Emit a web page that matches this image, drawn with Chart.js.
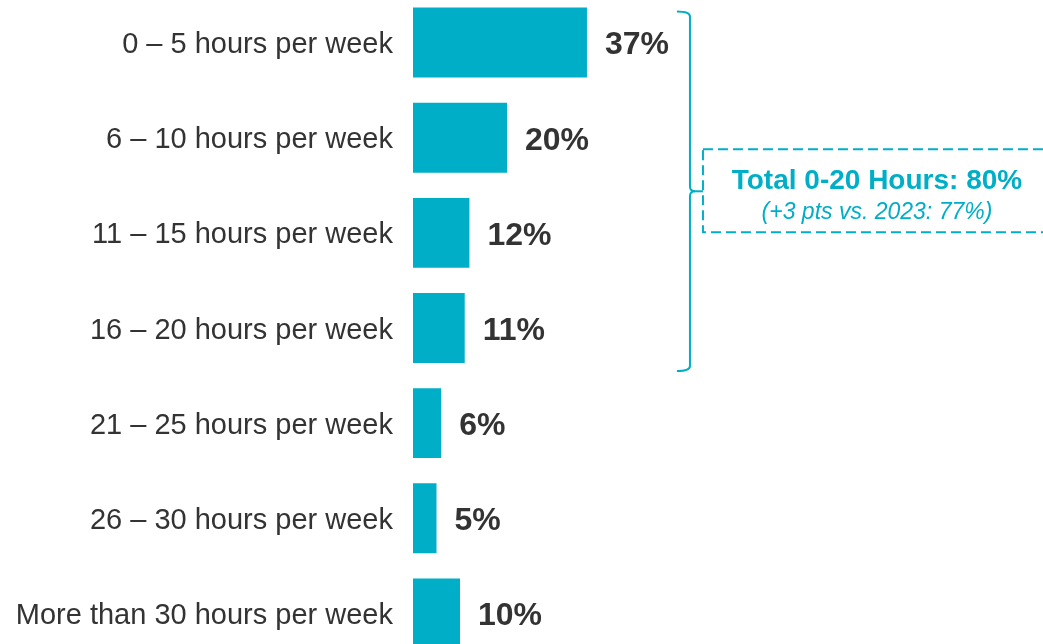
<!DOCTYPE html>
<html>
<head>
<meta charset="utf-8">
<script src="https://cdn.jsdelivr.net/npm/chart.js@4"></script>
<style>
    html, body { margin: 0; padding: 0; background: #fff; overflow: hidden; }
    #wrap { position: absolute; left: 0; top: -5px; width: 1043px; height: 666px; }
</style>
</head>
<body>
<div id="wrap"><canvas id="barChart"></canvas></div>
<script>
const categories = [
    '0 \u2013 5 hours per week',
    '6 \u2013 10 hours per week',
    '11 \u2013 15 hours per week',
    '16 \u2013 20 hours per week',
    '21 \u2013 25 hours per week',
    '26 \u2013 30 hours per week',
    'More than 30 hours per week'
];
const shares = [37, 20, 12, 11, 6, 5, 10];
const totalTitle = 'Total 0-20 Hours: 80%';
const totalNote = '(+3 pts vs. 2023: 77%)';

const TEAL = '#00AEC7';
const DARK = '#333333';

// value labels right of each bar
const valueLabels = {
    id: 'valueLabels',
    afterDatasetsDraw(chart) {
        const ctx = chart.ctx;
        const meta = chart.getDatasetMeta(0);
        ctx.save();
        ctx.font = 'bold 32px "Liberation Sans", Arial, sans-serif';
        ctx.fillStyle = DARK;
        ctx.textAlign = 'left';
        ctx.textBaseline = 'middle';
        meta.data.forEach((bar, i) => {
            ctx.fillText(shares[i] + '%', bar.x + 18, bar.y + 3);
        });
        ctx.restore();
    }
};

// curly bracket + dashed callout for the first four groups
const bracketNote = {
    id: 'bracketNote',
    afterDraw(chart) {
        const ctx = chart.ctx;
        const x = chart.scales.x;
        const y = chart.scales.y;
        const bx = x.getPixelForValue(37) + 103;
        const top = y.getPixelForValue(0) - 31;
        const bottom = y.getPixelForValue(3) + 43;
        const mid = (top + bottom) / 2;
        const boxL = bx + 13;

        ctx.save();
        ctx.strokeStyle = TEAL;
        ctx.lineWidth = 2;
        ctx.beginPath();
        ctx.moveTo(bx - 13, top);
        ctx.quadraticCurveTo(bx, top, bx, top + 5);
        ctx.lineTo(bx, mid - 5);
        ctx.quadraticCurveTo(bx, mid, bx + 5, mid);
        ctx.quadraticCurveTo(bx, mid, bx, mid + 5);
        ctx.lineTo(bx, bottom - 5);
        ctx.quadraticCurveTo(bx, bottom, bx - 13, bottom);
        ctx.stroke();
        ctx.beginPath();
        ctx.moveTo(bx + 4, mid);
        ctx.lineTo(boxL, mid);
        ctx.stroke();

        // dashed box
        ctx.setLineDash([10, 5]);
        ctx.strokeRect(boxL, mid - 42, 350, 83);
        ctx.setLineDash([]);

        const cx = boxL + 174;
        ctx.fillStyle = TEAL;
        ctx.textAlign = 'center';
        ctx.textBaseline = 'middle';
        ctx.font = 'bold 28px "Liberation Sans", Arial, sans-serif';
        ctx.fillText(totalTitle, cx, mid - 10);
        ctx.font = 'italic 23px "Liberation Sans", Arial, sans-serif';
        ctx.fillText(totalNote, cx, mid + 21);
        ctx.restore();
    }
};

const ctx = document.getElementById('barChart').getContext('2d');
const barChart = new Chart(ctx, {
    type: 'bar',
    data: {
        labels: categories,
        datasets: [{
            data: shares,
            backgroundColor: TEAL,
            borderWidth: 0,
            categoryPercentage: 1,
            barPercentage: 0.735
        }]
    },
    options: {
        indexAxis: 'y',
        responsive: true,
        maintainAspectRatio: false,
        animation: false,
        layout: { padding: 0 },
        plugins: {
            legend: { display: false },
            tooltip: { enabled: false }
        },
        scales: {
            x: {
                display: false,
                min: 0,
                max: 134
            },
            y: {
                grid: { display: false, drawTicks: false },
                border: { display: false },
                ticks: {
                    padding: 20,
                    labelOffset: 2.5,
                    color: DARK,
                    font: { family: '"Liberation Sans", Arial, sans-serif', size: 29 }
                },
                afterFit(scale) {
                    scale.width = 413;
                    scale.paddingTop = 0;
                    scale.paddingBottom = 0;
                }
            }
        }
    },
    plugins: [valueLabels, bracketNote]
});
</script>
</body>
</html>
